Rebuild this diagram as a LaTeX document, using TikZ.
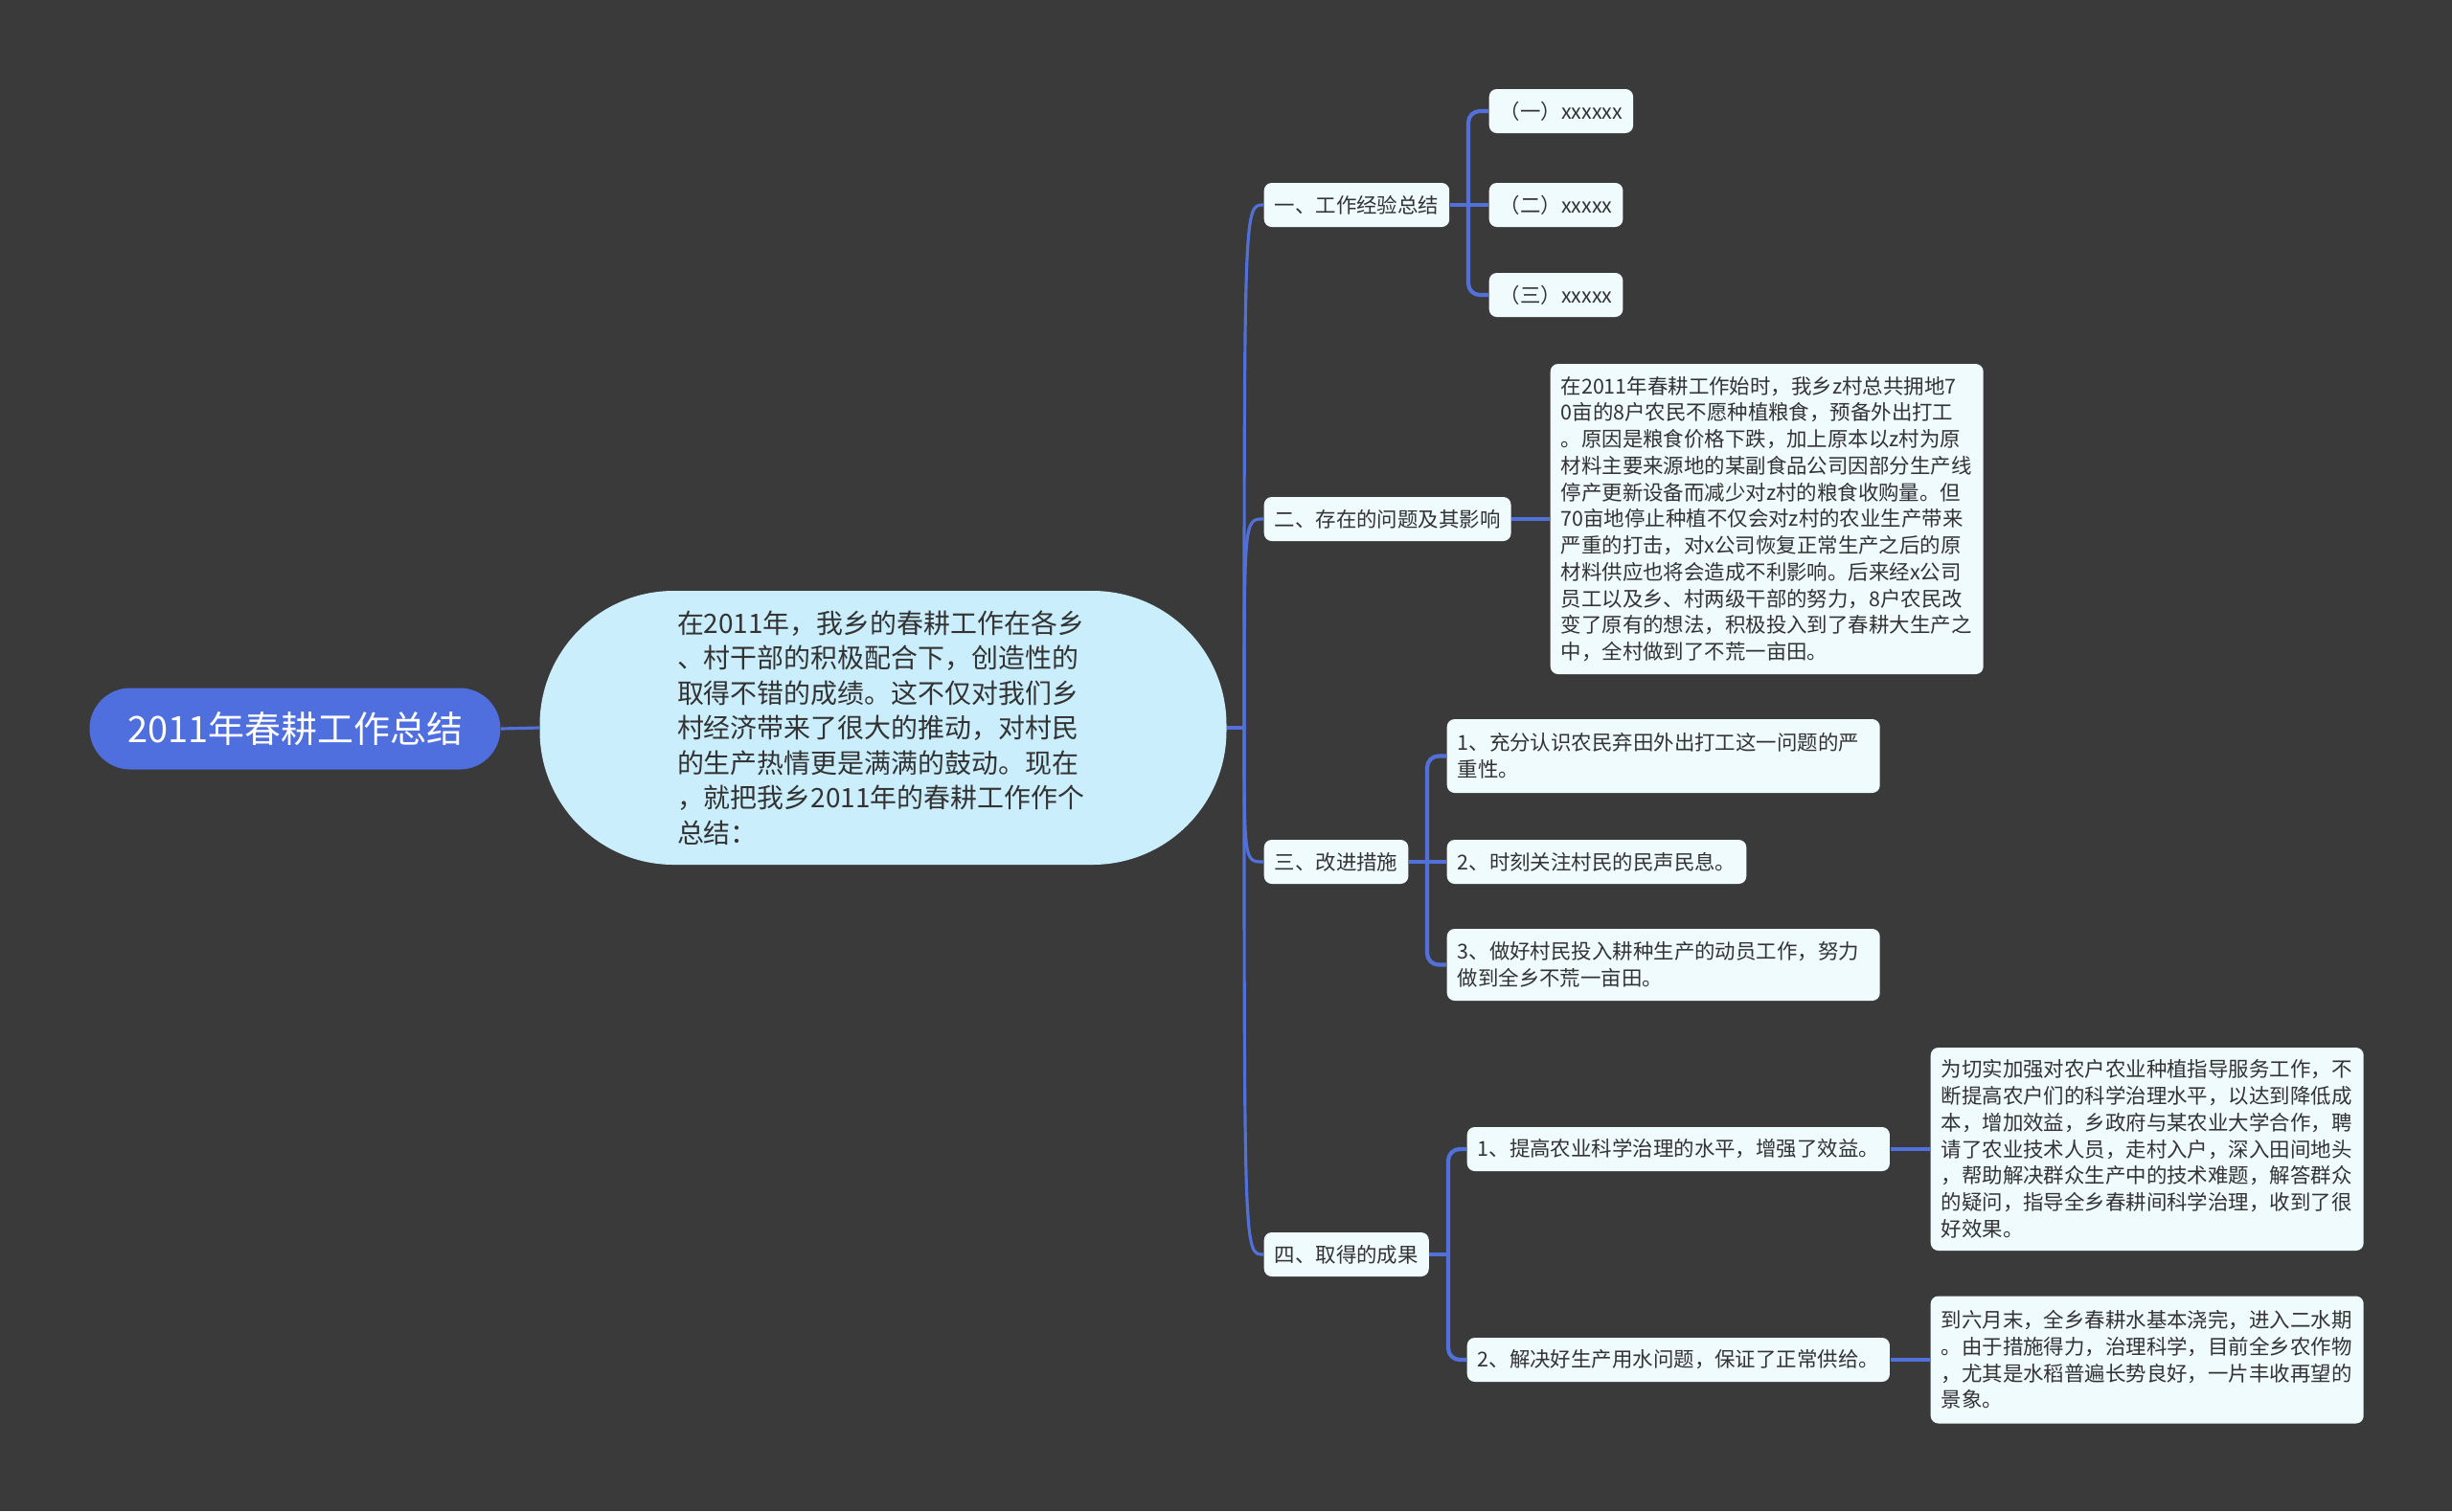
\documentclass[tikz,border=0pt]{standalone}
\usepackage{fontspec}
\setmainfont{Noto Sans CJK SC}
\usetikzlibrary{positioning}
\definecolor{bgdark}{HTML}{3A3A3A}
\definecolor{rootblue}{HTML}{4F6FDF}
\definecolor{linkblue}{HTML}{5170DA}
\definecolor{topicfill}{HTML}{F0FBFD}
\definecolor{sumfill}{HTML}{CAEEFC}
\definecolor{inktext}{HTML}{333333}

\begin{document}
\begin{tikzpicture}[
                root/.style={rounded corners=0.425cm, fill=rootblue, text=white, minimum width=4.29cm, minimum height=0.85cm, font=\fontsize{10.8}{13}\selectfont},
                summary/.style={rounded corners=1.4cm, fill=sumfill, text=inktext, minimum width=7.17cm, minimum height=2.86cm, text width=4.3cm, align=left, font=\fontsize{7.95}{10.4}\selectfont},
                topic/.style={rounded corners=0.08cm, fill=topicfill, text=inktext, minimum height=0.46cm, inner xsep=1.1mm, inner ysep=0.5mm, anchor=west, font=\fontsize{6.1}{7.9}\selectfont},
                leaf/.style={topic, text width=4.3cm, align=left},
                trunk/.style={linkblue, line width=0.9pt},
                branch/.style={linkblue, line width=1.2pt, rounded corners=0.12cm}
            ]
            \useasboundingbox (0,0) rectangle (25.6,-15.78);
            \fill[bgdark] (0,0) rectangle (25.6,-15.78);

            % centre
            \node[root] (root) at (3.08, -7.61) {2011年春耕工作总结};
            \node[summary] (sum) at (9.22, -7.60) {在2011年，我乡的春耕工作在各乡\\、村干部的积极配合下，创造性的\\取得不错的成绩。这不仅对我们乡\\村经济带来了很大的推动，对村民\\的生产热情更是满满的鼓动。现在\\，就把我乡2011年的春耕工作作个\\总结：};
            \coordinate (J) at (12.99, -7.60);

            % main topics
            \node[topic] (A) at (13.19, -2.14) {一、工作经验总结};
            \node[topic] (B) at (13.19, -5.42) {二、存在的问题及其影响};
            \node[topic] (C) at (13.19, -9.00) {三、改进措施};
            \node[topic] (D) at (13.19, -13.10) {四、取得的成果};

            % sub topics
            \node[topic] (A1) at (15.54, -1.16) {（一）xxxxxx};
            \node[topic] (A2) at (15.54, -2.14) {（二）xxxxx};
            \node[topic] (A3) at (15.54, -3.08) {（三）xxxxx};
            \node[leaf, minimum height=3.24cm] (B1) at (16.18, -5.42) {在2011年春耕工作始时，我乡z村总共拥地7\\0亩的8户农民不愿种植粮食，预备外出打工\\。原因是粮食价格下跌，加上原本以z村为原\\材料主要来源地的某副食品公司因部分生产线\\停产更新设备而减少对z村的粮食收购量。但\\70亩地停止种植不仅会对z村的农业生产带来\\严重的打击，对x公司恢复正常生产之后的原\\材料供应也将会造成不利影响。后来经x公司\\员工以及乡、村两级干部的努力，8户农民改\\变了原有的想法，积极投入到了春耕大生产之\\中，全村做到了不荒一亩田。};
            \node[leaf, minimum height=0.77cm] (C1) at (15.10, -7.895) {1、充分认识农民弃田外出打工这一问题的严\\重性。};
            \node[topic] (C2) at (15.10, -9.00) {2、时刻关注村民的民声民息。};
            \node[leaf, minimum height=0.75cm] (C3) at (15.10, -10.075) {3、做好村民投入耕种生产的动员工作，努力\\做到全乡不荒一亩田。};
            \node[topic] (D1) at (15.31, -12.00) {1、提高农业科学治理的水平，增强了效益。};
            \node[topic] (D2) at (15.31, -14.20) {2、解决好生产用水问题，保证了正常供给。};
            \node[leaf, minimum height=2.12cm] (D1d) at (20.15, -12.00) {为切实加强对农户农业种植指导服务工作，不\\断提高农户们的科学治理水平，以达到降低成\\本，增加效益，乡政府与某农业大学合作，聘\\请了农业技术人员，走村入户，深入田间地头\\，帮助解决群众生产中的技术难题，解答群众\\的疑问，指导全乡春耕间科学治理，收到了很\\好效果。};
            \node[leaf, minimum height=1.33cm] (D2d) at (20.15, -14.20) {到六月末，全乡春耕水基本浇完，进入二水期\\。由于措施得力，治理科学，目前全乡农作物\\，尤其是水稻普遍长势良好，一片丰收再望的\\景象。};

            % connectors
            \draw[trunk] (root.east) -- (sum.west);
            \draw[trunk] (sum.east) -- (J);
            \foreach \t in {A,B,C,D}
                \draw[trunk] (J) .. controls (J |- \t.west) .. (\t.west);

            \coordinate (Ab) at (15.33, -2.14);
            \draw[branch] (A.east) -- (A2.west);
            \foreach \c in {A1,A3}
                \draw[branch] (Ab) |- (\c.west);
            \draw[branch] (B.east) -- (B1.west);

            \coordinate (Cb) at (14.90, -9.00);
            \draw[branch] (C.east) -- (C2.west);
            \foreach \c in {C1,C3}
                \draw[branch] (Cb) |- (\c.west);

            \coordinate (Db) at (15.12, -13.10);
            \draw[branch] (D.east) -- (Db);
            \foreach \c in {D1,D2}
                \draw[branch] (Db) |- (\c.west);
            \draw[branch] (D1.east) -- (D1d.west);
            \draw[branch] (D2.east) -- (D2d.west);
            \end{tikzpicture}
\end{document}
